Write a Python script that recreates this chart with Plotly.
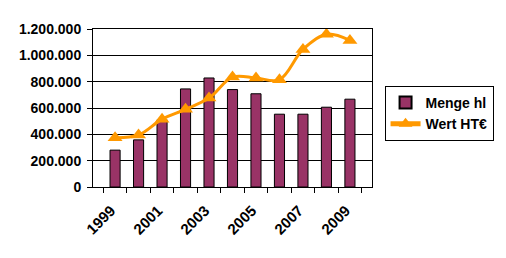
import plotly.graph_objects as go

years = ["1999", "2000", "2001", "2002", "2003", "2004", "2005", "2006", "2007", "2008", "2009"]
tick_labels = ["1999", "", "2001", "", "2003", "", "2005", "", "2007", "", "2009"]
menge_hl = [280000, 358000, 510000, 745000, 828000, 740000, 708000, 553000, 553000, 606000, 667000]
wert_ht = [375000, 395000, 515000, 590000, 675000, 835000, 828000, 815000, 1045000, 1160000, 1113000]

font_main = dict(family="Liberation Sans, Arial, sans-serif", size=14, color="black", weight=700)

fig = go.Figure()
fig.add_trace(go.Bar(
    x=years, y=menge_hl, name="Menge hl",
    marker=dict(color="#993366", line=dict(color="black", width=1)),
))
fig.add_trace(go.Scatter(
    x=years, y=wert_ht, name="Wert HT€", mode="lines+markers",
    line=dict(color="#FF9900", width=3, shape="spline", smoothing=1.0),
    marker=dict(symbol="triangle-up", size=13, color="#FF9900"),
))

fig.update_layout(
    width=506, height=258,
    margin=dict(l=93, r=130, t=29, b=71),
    paper_bgcolor="white", plot_bgcolor="white",
    font=font_main,
    separators=",.",
    bargap=0.57,
    showlegend=True,
    legend=dict(
        x=1.045, y=0.64, xanchor="left", yanchor="top",
        bordercolor="black", borderwidth=1, bgcolor="white",
        font=dict(family="Liberation Sans, Arial, sans-serif", size=14, color="black", weight=700),
        tracegroupgap=0, itemsizing="constant", itemwidth=30,
    ),
    xaxis=dict(
        type="category", tickson="boundaries",
        tickvals=years, ticktext=tick_labels,
        tickangle=-45, ticks="outside", ticklen=5, tickcolor="black",
        ticklabelstandoff=8, ticklabelshift=-4,
        tickfont=dict(family="Liberation Sans, Arial, sans-serif", size=15, color="black", weight=700),
        showline=True, linecolor="black", linewidth=1, mirror=True,
        showgrid=False,
    ),
    yaxis=dict(
        range=[0, 1200000], dtick=200000, tickformat=",d",
        ticks="outside", ticklen=5, tickcolor="black",
        ticklabelstandoff=3,
        showline=True, linecolor="black", linewidth=1, mirror=True,
        showgrid=True, gridcolor="black", gridwidth=1,
        zeroline=False,
    ),
)

fig.write_html("out.html")
